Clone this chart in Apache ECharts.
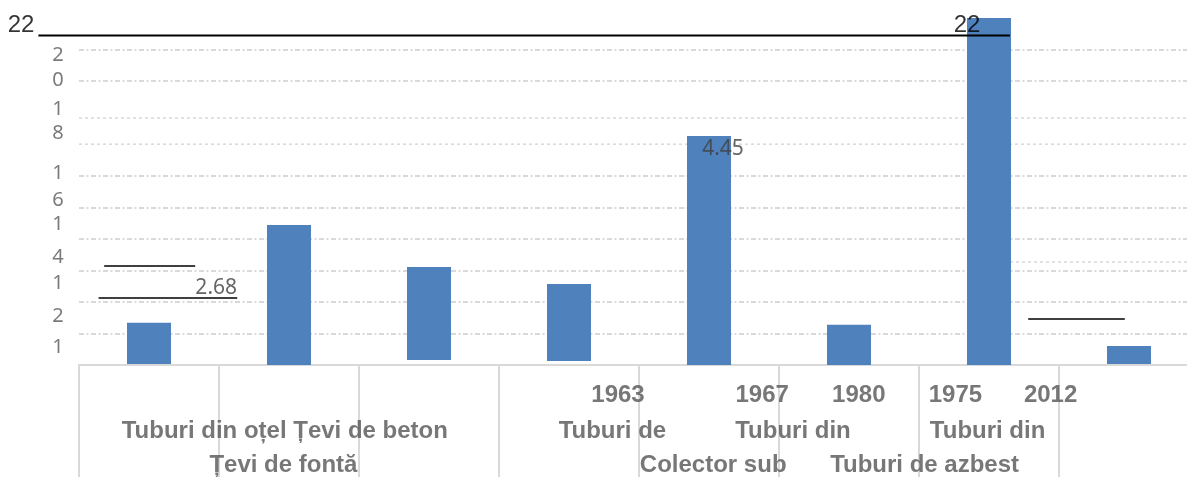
<!DOCTYPE html>
<html>
<head>
<meta charset="utf-8">
<script src="https://cdn.jsdelivr.net/npm/echarts@6/dist/echarts.min.js"></script>
<style>
html, body { margin: 0; background: #fff; }
#chart { width: 1187px; height: 477px; }
</style>
</head>
<body>
<div id="chart"></div>
<script>
// categories (their labels come out scrambled in the picture, so the texts are placed below as free text)
var categories = ['Tuburi din oțel', 'Țevi de beton', 'Țevi de fontă', 'Tuburi de 1963',
    'Colector sub 1967', 'Tuburi din 1980', 'Tuburi din 1975', 'Tuburi de azbest 2012'];
// top and bottom of every bar, in axis units
var barTop = [2.68, 8.88, 6.21, 5.14, 14.52, 2.55, 22, 1.2];
var barBase = [0.06, 0, 0.32, 0.25, 0, 0, 0, 0.06];

// texts under the axis: position in category units, row in axis units
var xLabelText = ['1963', '1967', '1980', '1975', '2012',
    'Tuburi din oțel Țevi de beton', 'Țevi de fontă', 'Tuburi de', 'Tuburi din',
    'Colector sub', 'Tuburi din', 'Tuburi de azbest'];
var xLabelPos = [3.35, 4.38, 5.07, 5.76, 6.44, 0.97, 0.96, 3.31, 4.6, 4.03, 5.99, 5.54];
var xLabelRow = [-1.9, -1.9, -1.9, -1.9, -1.9, -4.19, -6.34, -4.19, -4.19, -6.34, -4.19, -6.34];

// the broken y tick labels, one digit each
var yTickText = ['2', '0', '1', '8', '1', '6', '1', '4', '1', '2', '1'];
var yTickPos = [19.66, 18.07, 16.23, 14.71, 12.17, 10.46, 8.94, 6.85, 5.2, 3.11, 1.14];

// value labels
var valueText = ['2.68', '4.45'];
var valuePos = [[0.48, 4.85], [4.1, 13.67]];
var topText = ['22', '22'];
var topPos = [[-0.914, 21.56], [5.843, 21.56]];

// stray lines: [from, to, level]
var blackLines = [[-0.79, 6.15, 20.89]];
var greyLines = [[-0.32, 0.33, 6.28], [-0.36, 0.63, 4.25], [6.28, 6.97, 2.92]];
var dashedLines = [[-0.5, 7.5, 15.66], [-0.5, 7.5, 14], [6.15, 7.5, 6.53]];

var gridCol = '#d9d9d9';

function textSeries(texts, xs, ys, style) {
    var data = [];
    for (var i = 0; i < texts.length; i++)
        data.push({ name: texts[i], value: [xs[i], ys[i]] });
    return {
        type: 'scatter', xAxisIndex: 1, yAxisIndex: 1, silent: true, clip: false, z: 5,
        symbolSize: 1, itemStyle: { color: 'transparent' },
        label: Object.assign({ show: true, position: 'inside', formatter: '{b}' }, style),
        data: data
    };
}

function lineSeries(seg, color, width, type, z) {
    return {
        type: 'line', xAxisIndex: 1, yAxisIndex: 1, silent: true, clip: false, z: z,
        symbol: 'none', animation: false,
        lineStyle: { color: color, width: width, type: type },
        data: [[seg[0], seg[2]], [seg[1], seg[2]]]
    };
}

var heights = barTop.map(function (t, i) { return +(t - barBase[i]).toFixed(2); });

var series = [
    { type: 'bar', stack: 'b', barWidth: 44, silent: true, itemStyle: { color: 'transparent' }, data: barBase },
    { type: 'bar', stack: 'b', barWidth: 44, z: 3, itemStyle: { color: '#4f81bd' }, data: heights }
];
dashedLines.forEach(function (s) { series.push(lineSeries(s, gridCol, 1.5, [3, 3], 1)); });
greyLines.forEach(function (s) { series.push(lineSeries(s, '#404040', 2, 'solid', 4)); });
blackLines.forEach(function (s) { series.push(lineSeries(s, '#000', 2, 'solid', 4)); });

var xs = yTickText.map(function () { return -0.65; });
series.push(textSeries(yTickText, xs, yTickPos,
    { fontFamily: 'Noto Sans', fontSize: 20, color: '#595959' }));
series.push(textSeries(xLabelText, xLabelPos, xLabelRow,
    { fontFamily: 'Liberation Sans', fontWeight: 'bold', fontSize: 24, color: '#555' }));
series.push(textSeries(valueText, valuePos.map(function (p) { return p[0]; }), valuePos.map(function (p) { return p[1]; }),
    { fontFamily: 'Noto Sans', fontSize: 21, color: '#404040' }));
series.push(textSeries(topText, topPos.map(function (p) { return p[0]; }), topPos.map(function (p) { return p[1]; }),
    { fontFamily: 'Liberation Sans', fontSize: 24, color: '#000' }));

var chart = echarts.init(document.getElementById('chart'));
chart.setOption({
    animation: false,
    grid: [
        { left: 79, top: 18, width: 1120, bottom: 112, outerBoundsMode: 'none', containLabel: false },
        // same scale, one category wider on each side, for the loose texts and lines
        { left: 9, top: 18, width: 1260, bottom: 112, outerBoundsMode: 'none', containLabel: false }
    ],
    xAxis: [{
        type: 'category', data: categories, gridIndex: 0,
        axisLine: { lineStyle: { color: gridCol, width: 2 } },
        axisTick: { show: true, interval: 0, length: 112, lineStyle: { color: gridCol, width: 2 } },
        axisLabel: { show: false },
        splitLine: { show: false }
    }, {
        type: 'value', gridIndex: 1, min: -1, max: 8, show: false
    }],
    yAxis: [{
        type: 'value', gridIndex: 0, min: 0, max: 22, interval: 2,
        axisLine: { show: false }, axisTick: { show: false }, axisLabel: { show: false },
        splitLine: {
            show: true, showMinLine: false, showMaxLine: false,
            lineStyle: {
                // lines at 2 .. 20; 14 and 16 are drawn separately
                color: [gridCol, gridCol, gridCol, gridCol, gridCol, gridCol, 'transparent', 'transparent', gridCol, gridCol],
                width: 2, type: [5, 2.5, 2, 2.5]
            }
        }
    }, {
        type: 'value', gridIndex: 1, min: 0, max: 22, show: false
    }],
    series: series
});
</script>
</body>
</html>
